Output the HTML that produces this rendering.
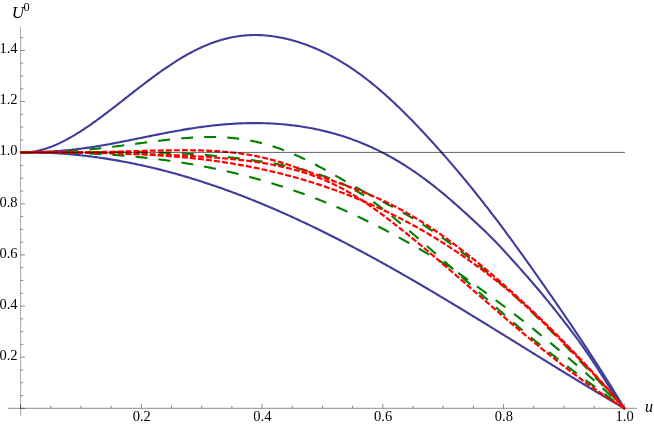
<!DOCTYPE html>
<html><head><meta charset="utf-8"><title>U0 vs u</title>
<style>html,body{margin:0;padding:0;background:#fff;}svg{display:block;}text{font-family:"Liberation Serif",serif;fill:#000;}svg{opacity:0.9999;will-change:transform;}</style></head><body>
<svg width="654" height="425" viewBox="0 0 654 425">
<rect width="654" height="425" fill="#fff"/>
<g stroke="#000" stroke-width="0.5" stroke-opacity="0.9" fill="none" shape-rendering="auto">
<line x1="8.0" y1="408.3" x2="636.9" y2="408.3"/>
<line x1="20.6" y1="26.8" x2="20.6" y2="415.7" stroke-opacity="0.68"/>
<line x1="20.60" y1="408.3" x2="20.60" y2="403.90"/>
<line x1="50.78" y1="408.3" x2="50.78" y2="405.70"/>
<line x1="80.97" y1="408.3" x2="80.97" y2="405.70"/>
<line x1="111.16" y1="408.3" x2="111.16" y2="405.70"/>
<line x1="141.34" y1="408.3" x2="141.34" y2="403.90"/>
<line x1="171.52" y1="408.3" x2="171.52" y2="405.70"/>
<line x1="201.71" y1="408.3" x2="201.71" y2="405.70"/>
<line x1="231.89" y1="408.3" x2="231.89" y2="405.70"/>
<line x1="262.08" y1="408.3" x2="262.08" y2="403.90"/>
<line x1="292.26" y1="408.3" x2="292.26" y2="405.70"/>
<line x1="322.45" y1="408.3" x2="322.45" y2="405.70"/>
<line x1="352.63" y1="408.3" x2="352.63" y2="405.70"/>
<line x1="382.82" y1="408.3" x2="382.82" y2="403.90"/>
<line x1="413.00" y1="408.3" x2="413.00" y2="405.70"/>
<line x1="443.19" y1="408.3" x2="443.19" y2="405.70"/>
<line x1="473.38" y1="408.3" x2="473.38" y2="405.70"/>
<line x1="503.56" y1="408.3" x2="503.56" y2="403.90"/>
<line x1="533.75" y1="408.3" x2="533.75" y2="405.70"/>
<line x1="563.93" y1="408.3" x2="563.93" y2="405.70"/>
<line x1="594.12" y1="408.3" x2="594.12" y2="405.70"/>
<line x1="624.30" y1="408.3" x2="624.30" y2="403.90"/>
<line x1="20.6" y1="408.30" x2="25.00" y2="408.30"/>
<line x1="20.6" y1="395.52" x2="23.20" y2="395.52"/>
<line x1="20.6" y1="382.74" x2="23.20" y2="382.74"/>
<line x1="20.6" y1="369.96" x2="23.20" y2="369.96"/>
<line x1="20.6" y1="357.17" x2="25.00" y2="357.17"/>
<line x1="20.6" y1="344.39" x2="23.20" y2="344.39"/>
<line x1="20.6" y1="331.61" x2="23.20" y2="331.61"/>
<line x1="20.6" y1="318.83" x2="23.20" y2="318.83"/>
<line x1="20.6" y1="306.05" x2="25.00" y2="306.05"/>
<line x1="20.6" y1="293.27" x2="23.20" y2="293.27"/>
<line x1="20.6" y1="280.49" x2="23.20" y2="280.49"/>
<line x1="20.6" y1="267.70" x2="23.20" y2="267.70"/>
<line x1="20.6" y1="254.92" x2="25.00" y2="254.92"/>
<line x1="20.6" y1="242.14" x2="23.20" y2="242.14"/>
<line x1="20.6" y1="229.36" x2="23.20" y2="229.36"/>
<line x1="20.6" y1="216.58" x2="23.20" y2="216.58"/>
<line x1="20.6" y1="203.80" x2="25.00" y2="203.80"/>
<line x1="20.6" y1="191.01" x2="23.20" y2="191.01"/>
<line x1="20.6" y1="178.23" x2="23.20" y2="178.23"/>
<line x1="20.6" y1="165.45" x2="23.20" y2="165.45"/>
<line x1="20.6" y1="152.67" x2="25.00" y2="152.67"/>
<line x1="20.6" y1="139.89" x2="23.20" y2="139.89"/>
<line x1="20.6" y1="127.11" x2="23.20" y2="127.11"/>
<line x1="20.6" y1="114.33" x2="23.20" y2="114.33"/>
<line x1="20.6" y1="101.54" x2="25.00" y2="101.54"/>
<line x1="20.6" y1="88.76" x2="23.20" y2="88.76"/>
<line x1="20.6" y1="75.98" x2="23.20" y2="75.98"/>
<line x1="20.6" y1="63.20" x2="23.20" y2="63.20"/>
<line x1="20.6" y1="50.42" x2="25.00" y2="50.42"/>
<line x1="20.6" y1="37.64" x2="23.20" y2="37.64"/>
</g>
<g font-size="14.5px">
<text x="141.69" y="421.4" text-anchor="middle">0.2</text>
<text x="262.43" y="421.4" text-anchor="middle">0.4</text>
<text x="383.17" y="421.4" text-anchor="middle">0.6</text>
<text x="503.91" y="421.4" text-anchor="middle">0.8</text>
<text x="624.65" y="421.4" text-anchor="middle">1.0</text>
<text x="17.6" y="359.92" text-anchor="end">0.2</text>
<text x="17.6" y="308.80" text-anchor="end">0.4</text>
<text x="17.6" y="257.67" text-anchor="end">0.6</text>
<text x="17.6" y="206.55" text-anchor="end">0.8</text>
<text x="17.6" y="155.42" text-anchor="end">1.0</text>
<text x="17.6" y="104.29" text-anchor="end">1.2</text>
<text x="17.6" y="53.17" text-anchor="end">1.4</text>
</g>
<text x="645.1" y="412.1" font-size="16px" font-style="italic">u</text>
<text transform="translate(11.7,17.7) scale(1.07,1)" font-size="16px" font-style="italic">U</text>
<text x="23.5" y="11.2" font-size="12.4px">0</text>
<g fill="none" stroke-width="2.1" stroke-linejoin="round">
<path d="M20.60,152.35 L22.10,152.40 L23.60,152.41 L25.10,152.38 L26.60,152.32 L28.10,152.22 L29.60,152.09 L31.10,151.92 L32.60,151.72 L34.10,151.49 L35.60,151.23 L37.10,150.93 L38.60,150.61 L40.10,150.25 L41.60,149.87 L43.10,149.45 L44.60,149.01 L46.10,148.54 L47.60,148.04 L49.10,147.51 L50.60,146.96 L52.10,146.39 L53.60,145.78 L55.10,145.16 L56.60,144.51 L58.10,143.84 L59.60,143.14 L61.10,142.42 L62.60,141.68 L64.10,140.92 L65.60,140.14 L67.10,139.34 L68.60,138.52 L70.10,137.69 L71.60,136.83 L73.10,135.95 L74.60,135.06 L76.10,134.16 L77.60,133.23 L79.10,132.29 L80.60,131.34 L82.10,130.37 L83.60,129.38 L85.10,128.39 L86.60,127.38 L88.10,126.36 L89.60,125.32 L91.10,124.28 L92.60,123.22 L94.10,122.15 L95.60,121.08 L97.10,119.99 L98.60,118.90 L100.10,117.79 L101.60,116.68 L103.10,115.56 L104.60,114.44 L106.10,113.30 L107.60,112.17 L109.10,111.02 L110.60,109.87 L112.10,108.72 L113.60,107.56 L115.10,106.40 L116.60,105.24 L118.10,104.07 L119.60,102.90 L121.10,101.73 L122.60,100.55 L124.10,99.38 L125.60,98.20 L127.10,97.03 L128.60,95.86 L130.10,94.68 L131.60,93.51 L133.10,92.34 L134.60,91.17 L136.10,90.00 L137.60,88.84 L139.10,87.68 L140.60,86.52 L142.10,85.37 L143.60,84.22 L145.10,83.08 L146.60,81.94 L148.10,80.81 L149.60,79.69 L151.10,78.57 L152.60,77.46 L154.10,76.35 L155.60,75.26 L157.10,74.17 L158.60,73.09 L160.10,72.01 L161.60,70.95 L163.10,69.90 L164.60,68.86 L166.10,67.83 L167.60,66.80 L169.10,65.79 L170.60,64.79 L172.10,63.81 L173.60,62.83 L175.10,61.87 L176.60,60.92 L178.10,59.98 L179.60,59.06 L181.10,58.15 L182.60,57.26 L184.10,56.37 L185.60,55.51 L187.10,54.66 L188.60,53.82 L190.10,53.00 L191.60,52.20 L193.10,51.41 L194.60,50.64 L196.10,49.89 L197.60,49.15 L199.10,48.43 L200.60,47.73 L202.10,47.04 L203.60,46.38 L205.10,45.73 L206.60,45.10 L208.10,44.48 L209.60,43.89 L211.10,43.32 L212.60,42.76 L214.10,42.22 L215.60,41.70 L217.10,41.20 L218.60,40.72 L220.10,40.26 L221.60,39.82 L223.10,39.40 L224.60,39.00 L226.10,38.61 L227.60,38.25 L229.10,37.91 L230.60,37.58 L232.10,37.28 L233.60,36.99 L235.10,36.73 L236.60,36.48 L238.10,36.25 L239.60,36.05 L241.10,35.86 L242.60,35.69 L244.10,35.54 L245.60,35.42 L247.10,35.30 L248.60,35.21 L250.10,35.14 L251.60,35.09 L253.10,35.05 L254.60,35.04 L256.10,35.04 L257.60,35.06 L259.10,35.10 L260.60,35.16 L262.10,35.23 L263.60,35.32 L265.10,35.43 L266.60,35.56 L268.10,35.70 L269.60,35.86 L271.10,36.04 L272.60,36.23 L274.10,36.44 L275.60,36.67 L277.10,36.91 L278.60,37.17 L280.10,37.45 L281.60,37.74 L283.10,38.05 L284.60,38.38 L286.10,38.72 L287.60,39.07 L289.10,39.44 L290.60,39.83 L292.10,40.23 L293.60,40.65 L295.10,41.08 L296.60,41.53 L298.10,42.00 L299.60,42.47 L301.10,42.97 L302.60,43.48 L304.10,44.00 L305.60,44.54 L307.10,45.09 L308.60,45.66 L310.10,46.25 L311.60,46.85 L313.10,47.46 L314.60,48.09 L316.10,48.73 L317.60,49.39 L319.10,50.06 L320.60,50.75 L322.10,51.45 L323.60,52.17 L325.10,52.90 L326.60,53.65 L328.10,54.41 L329.60,55.18 L331.10,55.98 L332.60,56.78 L334.10,57.60 L335.60,58.44 L337.10,59.29 L338.60,60.16 L340.10,61.04 L341.60,61.94 L343.10,62.85 L344.60,63.78 L346.10,64.72 L347.60,65.68 L349.10,66.65 L350.60,67.64 L352.10,68.65 L353.60,69.67 L355.10,70.70 L356.60,71.75 L358.10,72.82 L359.60,73.90 L361.10,75.00 L362.60,76.11 L364.10,77.24 L365.60,78.38 L367.10,79.54 L368.60,80.71 L370.10,81.90 L371.60,83.10 L373.10,84.32 L374.60,85.55 L376.10,86.80 L377.60,88.06 L379.10,89.33 L380.60,90.62 L382.10,91.92 L383.60,93.24 L385.10,94.57 L386.60,95.91 L388.10,97.26 L389.60,98.63 L391.10,100.01 L392.60,101.41 L394.10,102.81 L395.60,104.23 L397.10,105.66 L398.60,107.10 L400.10,108.55 L401.60,110.01 L403.10,111.49 L404.60,112.97 L406.10,114.47 L407.60,115.97 L409.10,117.49 L410.60,119.01 L412.10,120.54 L413.60,122.09 L415.10,123.64 L416.60,125.20 L418.10,126.77 L419.60,128.35 L421.10,129.94 L422.60,131.53 L424.10,133.14 L425.60,134.75 L427.10,136.37 L428.60,138.00 L430.10,139.64 L431.60,141.28 L433.10,142.94 L434.60,144.60 L436.10,146.26 L437.60,147.94 L439.10,149.62 L440.60,151.31 L442.10,153.01 L443.60,154.71 L445.10,156.43 L446.60,158.15 L448.10,159.87 L449.60,161.61 L451.10,163.35 L452.60,165.10 L454.10,166.86 L455.60,168.62 L457.10,170.39 L458.60,172.17 L460.10,173.96 L461.60,175.75 L463.10,177.55 L464.60,179.36 L466.10,181.18 L467.60,183.01 L469.10,184.84 L470.60,186.68 L472.10,188.53 L473.60,190.39 L475.10,192.25 L476.60,194.13 L478.10,196.01 L479.60,197.90 L481.10,199.80 L482.60,201.70 L484.10,203.62 L485.60,205.54 L487.10,207.47 L488.60,209.41 L490.10,211.35 L491.60,213.31 L493.10,215.27 L494.60,217.24 L496.10,219.22 L497.60,221.20 L499.10,223.19 L500.60,225.19 L502.10,227.20 L503.60,229.21 L505.10,231.23 L506.60,233.26 L508.10,235.30 L509.60,237.34 L511.10,239.38 L512.60,241.44 L514.10,243.50 L515.60,245.56 L517.10,247.63 L518.60,249.71 L520.10,251.79 L521.60,253.88 L523.10,255.97 L524.60,258.07 L526.10,260.17 L527.60,262.27 L529.10,264.38 L530.60,266.50 L532.10,268.61 L533.60,270.74 L535.10,272.86 L536.60,274.99 L538.10,277.12 L539.60,279.26 L541.10,281.40 L542.60,283.54 L544.10,285.69 L545.60,287.84 L547.10,289.99 L548.60,292.15 L550.10,294.31 L551.60,296.47 L553.10,298.64 L554.60,300.81 L556.10,302.98 L557.60,305.16 L559.10,307.34 L560.60,309.53 L562.10,311.72 L563.60,313.91 L565.10,316.11 L566.60,318.31 L568.10,320.52 L569.60,322.73 L571.10,324.94 L572.60,327.16 L574.10,329.39 L575.60,331.62 L577.10,333.85 L578.60,336.09 L580.10,338.34 L581.60,340.60 L583.10,342.86 L584.60,345.12 L586.10,347.40 L587.60,349.68 L589.10,351.97 L590.60,354.27 L592.10,356.57 L593.60,358.89 L595.10,361.21 L596.60,363.54 L598.10,365.88 L599.60,368.22 L601.10,370.58 L602.60,372.95 L604.10,375.32 L605.60,377.71 L607.10,380.10 L608.60,382.51 L610.10,384.92 L611.60,387.35 L613.10,389.78 L614.60,392.23 L616.10,394.69 L617.60,397.15 L619.10,399.63 L620.60,402.12 L622.10,404.62 L623.60,407.13 L624.30,408.30 L624.81,409.16" stroke="#3f3d99"/>
<path d="M20.60,152.35 L22.10,152.36 L23.60,152.36 L25.10,152.35 L26.60,152.35 L28.10,152.33 L29.60,152.32 L31.10,152.30 L32.60,152.27 L34.10,152.24 L35.60,152.20 L37.10,152.16 L38.60,152.12 L40.10,152.07 L41.60,152.01 L43.10,151.95 L44.60,151.88 L46.10,151.81 L47.60,151.73 L49.10,151.65 L50.60,151.57 L52.10,151.47 L53.60,151.37 L55.10,151.27 L56.60,151.16 L58.10,151.05 L59.60,150.93 L61.10,150.80 L62.60,150.67 L64.10,150.54 L65.60,150.39 L67.10,150.25 L68.60,150.10 L70.10,149.94 L71.60,149.78 L73.10,149.61 L74.60,149.44 L76.10,149.26 L77.60,149.08 L79.10,148.89 L80.60,148.69 L82.10,148.50 L83.60,148.29 L85.10,148.09 L86.60,147.87 L88.10,147.66 L89.60,147.44 L91.10,147.21 L92.60,146.98 L94.10,146.74 L95.60,146.51 L97.10,146.26 L98.60,146.01 L100.10,145.76 L101.60,145.51 L103.10,145.25 L104.60,144.99 L106.10,144.72 L107.60,144.45 L109.10,144.18 L110.60,143.91 L112.10,143.63 L113.60,143.35 L115.10,143.06 L116.60,142.78 L118.10,142.49 L119.60,142.20 L121.10,141.90 L122.60,141.61 L124.10,141.31 L125.60,141.02 L127.10,140.72 L128.60,140.42 L130.10,140.11 L131.60,139.81 L133.10,139.51 L134.60,139.20 L136.10,138.90 L137.60,138.59 L139.10,138.29 L140.60,137.98 L142.10,137.68 L143.60,137.37 L145.10,137.06 L146.60,136.76 L148.10,136.46 L149.60,136.15 L151.10,135.85 L152.60,135.55 L154.10,135.25 L155.60,134.95 L157.10,134.65 L158.60,134.35 L160.10,134.06 L161.60,133.76 L163.10,133.47 L164.60,133.18 L166.10,132.89 L167.60,132.61 L169.10,132.33 L170.60,132.04 L172.10,131.77 L173.60,131.49 L175.10,131.22 L176.60,130.95 L178.10,130.68 L179.60,130.42 L181.10,130.16 L182.60,129.90 L184.10,129.64 L185.60,129.39 L187.10,129.15 L188.60,128.90 L190.10,128.66 L191.60,128.43 L193.10,128.19 L194.60,127.97 L196.10,127.74 L197.60,127.52 L199.10,127.31 L200.60,127.10 L202.10,126.89 L203.60,126.69 L205.10,126.49 L206.60,126.30 L208.10,126.11 L209.60,125.93 L211.10,125.75 L212.60,125.58 L214.10,125.41 L215.60,125.25 L217.10,125.09 L218.60,124.94 L220.10,124.79 L221.60,124.65 L223.10,124.52 L224.60,124.39 L226.10,124.27 L227.60,124.15 L229.10,124.04 L230.60,123.93 L232.10,123.83 L233.60,123.73 L235.10,123.65 L236.60,123.56 L238.10,123.49 L239.60,123.42 L241.10,123.36 L242.60,123.30 L244.10,123.25 L245.60,123.20 L247.10,123.17 L248.60,123.14 L250.10,123.11 L251.60,123.09 L253.10,123.08 L254.60,123.08 L256.10,123.08 L257.60,123.09 L259.10,123.10 L260.60,123.13 L262.10,123.16 L263.60,123.19 L265.10,123.24 L266.60,123.29 L268.10,123.35 L269.60,123.41 L271.10,123.48 L272.60,123.56 L274.10,123.65 L275.60,123.74 L277.10,123.84 L278.60,123.95 L280.10,124.07 L281.60,124.19 L283.10,124.32 L284.60,124.46 L286.10,124.61 L287.60,124.76 L289.10,124.92 L290.60,125.09 L292.10,125.27 L293.60,125.45 L295.10,125.64 L296.60,125.84 L298.10,126.05 L299.60,126.27 L301.10,126.49 L302.60,126.73 L304.10,126.97 L305.60,127.22 L307.10,127.47 L308.60,127.74 L310.10,128.01 L311.60,128.30 L313.10,128.59 L314.60,128.89 L316.10,129.20 L317.60,129.52 L319.10,129.84 L320.60,130.18 L322.10,130.52 L323.60,130.87 L325.10,131.24 L326.60,131.61 L328.10,131.99 L329.60,132.38 L331.10,132.78 L332.60,133.19 L334.10,133.60 L335.60,134.03 L337.10,134.47 L338.60,134.91 L340.10,135.37 L341.60,135.84 L343.10,136.31 L344.60,136.80 L346.10,137.29 L347.60,137.80 L349.10,138.31 L350.60,138.84 L352.10,139.38 L353.60,139.92 L355.10,140.48 L356.60,141.05 L358.10,141.63 L359.60,142.21 L361.10,142.81 L362.60,143.42 L364.10,144.04 L365.60,144.68 L367.10,145.32 L368.60,145.97 L370.10,146.64 L371.60,147.32 L373.10,148.00 L374.60,148.70 L376.10,149.41 L377.60,150.14 L379.10,150.87 L380.60,151.62 L382.10,152.37 L383.60,153.14 L385.10,153.93 L386.60,154.72 L388.10,155.53 L389.60,156.34 L391.10,157.17 L392.60,158.02 L394.10,158.87 L395.60,159.74 L397.10,160.62 L398.60,161.51 L400.10,162.42 L401.60,163.33 L403.10,164.26 L404.60,165.21 L406.10,166.16 L407.60,167.13 L409.10,168.11 L410.60,169.10 L412.10,170.10 L413.60,171.12 L415.10,172.15 L416.60,173.19 L418.10,174.24 L419.60,175.31 L421.10,176.39 L422.60,177.48 L424.10,178.58 L425.60,179.69 L427.10,180.82 L428.60,181.95 L430.10,183.10 L431.60,184.26 L433.10,185.43 L434.60,186.61 L436.10,187.80 L437.60,189.01 L439.10,190.22 L440.60,191.45 L442.10,192.68 L443.60,193.93 L445.10,195.18 L446.60,196.45 L448.10,197.72 L449.60,199.00 L451.10,200.30 L452.60,201.60 L454.10,202.91 L455.60,204.23 L457.10,205.55 L458.60,206.89 L460.10,208.23 L461.60,209.57 L463.10,210.93 L464.60,212.28 L466.10,213.65 L467.60,215.02 L469.10,216.39 L470.60,217.76 L472.10,219.14 L473.60,220.53 L475.10,221.92 L476.60,223.31 L478.10,224.70 L479.60,226.11 L481.10,227.52 L482.60,228.93 L484.10,230.36 L485.60,231.79 L487.10,233.24 L488.60,234.71 L490.10,236.19 L491.60,237.68 L493.10,239.20 L494.60,240.74 L496.10,242.29 L497.60,243.86 L499.10,245.45 L500.60,247.05 L502.10,248.67 L503.60,250.30 L505.10,251.94 L506.60,253.59 L508.10,255.25 L509.60,256.90 L511.10,258.56 L512.60,260.23 L514.10,261.89 L515.60,263.56 L517.10,265.23 L518.60,266.90 L520.10,268.58 L521.60,270.26 L523.10,271.95 L524.60,273.65 L526.10,275.35 L527.60,277.06 L529.10,278.78 L530.60,280.50 L532.10,282.24 L533.60,283.98 L535.10,285.73 L536.60,287.50 L538.10,289.27 L539.60,291.05 L541.10,292.84 L542.60,294.65 L544.10,296.46 L545.60,298.28 L547.10,300.11 L548.60,301.95 L550.10,303.80 L551.60,305.66 L553.10,307.53 L554.60,309.41 L556.10,311.30 L557.60,313.19 L559.10,315.09 L560.60,317.00 L562.10,318.92 L563.60,320.85 L565.10,322.79 L566.60,324.74 L568.10,326.70 L569.60,328.67 L571.10,330.65 L572.60,332.64 L574.10,334.65 L575.60,336.67 L577.10,338.70 L578.60,340.75 L580.10,342.82 L581.60,344.90 L583.10,347.01 L584.60,349.13 L586.10,351.28 L587.60,353.44 L589.10,355.64 L590.60,357.85 L592.10,360.10 L593.60,362.36 L595.10,364.65 L596.60,366.96 L598.10,369.30 L599.60,371.64 L601.10,374.01 L602.60,376.38 L604.10,378.76 L605.60,381.14 L607.10,383.52 L608.60,385.89 L610.10,388.25 L611.60,390.58 L613.10,392.88 L614.60,395.15 L616.10,397.37 L617.60,399.54 L619.10,401.64 L620.60,403.67 L622.10,405.62 L623.60,407.47 L624.30,408.30 L624.93,409.07" stroke="#3f3d99"/>
<path d="M20.60,152.35 L22.10,152.34 L23.60,152.33 L25.10,152.33 L26.60,152.33 L28.10,152.34 L29.60,152.35 L31.10,152.36 L32.60,152.38 L34.10,152.41 L35.60,152.44 L37.10,152.47 L38.60,152.51 L40.10,152.55 L41.60,152.59 L43.10,152.64 L44.60,152.70 L46.10,152.76 L47.60,152.82 L49.10,152.89 L50.60,152.96 L52.10,153.03 L53.60,153.12 L55.10,153.20 L56.60,153.29 L58.10,153.38 L59.60,153.48 L61.10,153.58 L62.60,153.69 L64.10,153.80 L65.60,153.92 L67.10,154.03 L68.60,154.16 L70.10,154.29 L71.60,154.42 L73.10,154.56 L74.60,154.70 L76.10,154.84 L77.60,154.99 L79.10,155.14 L80.60,155.30 L82.10,155.46 L83.60,155.63 L85.10,155.80 L86.60,155.98 L88.10,156.16 L89.60,156.34 L91.10,156.53 L92.60,156.72 L94.10,156.92 L95.60,157.12 L97.10,157.32 L98.60,157.53 L100.10,157.74 L101.60,157.96 L103.10,158.18 L104.60,158.41 L106.10,158.64 L107.60,158.87 L109.10,159.11 L110.60,159.35 L112.10,159.60 L113.60,159.85 L115.10,160.10 L116.60,160.36 L118.10,160.62 L119.60,160.89 L121.10,161.16 L122.60,161.44 L124.10,161.72 L125.60,162.00 L127.10,162.29 L128.60,162.58 L130.10,162.88 L131.60,163.18 L133.10,163.48 L134.60,163.79 L136.10,164.10 L137.60,164.42 L139.10,164.74 L140.60,165.06 L142.10,165.39 L143.60,165.72 L145.10,166.06 L146.60,166.40 L148.10,166.74 L149.60,167.09 L151.10,167.44 L152.60,167.80 L154.10,168.16 L155.60,168.52 L157.10,168.89 L158.60,169.26 L160.10,169.64 L161.60,170.02 L163.10,170.40 L164.60,170.79 L166.10,171.18 L167.60,171.58 L169.10,171.98 L170.60,172.38 L172.10,172.79 L173.60,173.20 L175.10,173.61 L176.60,174.03 L178.10,174.45 L179.60,174.88 L181.10,175.31 L182.60,175.74 L184.10,176.18 L185.60,176.62 L187.10,177.07 L188.60,177.52 L190.10,177.97 L191.60,178.42 L193.10,178.88 L194.60,179.35 L196.10,179.82 L197.60,180.29 L199.10,180.76 L200.60,181.24 L202.10,181.72 L203.60,182.21 L205.10,182.70 L206.60,183.19 L208.10,183.69 L209.60,184.19 L211.10,184.69 L212.60,185.20 L214.10,185.71 L215.60,186.23 L217.10,186.75 L218.60,187.27 L220.10,187.80 L221.60,188.32 L223.10,188.86 L224.60,189.39 L226.10,189.93 L227.60,190.48 L229.10,191.02 L230.60,191.57 L232.10,192.13 L233.60,192.68 L235.10,193.25 L236.60,193.81 L238.10,194.38 L239.60,194.95 L241.10,195.52 L242.60,196.10 L244.10,196.68 L245.60,197.27 L247.10,197.85 L248.60,198.44 L250.10,199.04 L251.60,199.64 L253.10,200.24 L254.60,200.84 L256.10,201.45 L257.60,202.06 L259.10,202.67 L260.60,203.29 L262.10,203.91 L263.60,204.54 L265.10,205.16 L266.60,205.79 L268.10,206.43 L269.60,207.06 L271.10,207.70 L272.60,208.34 L274.10,208.99 L275.60,209.64 L277.10,210.29 L278.60,210.95 L280.10,211.60 L281.60,212.27 L283.10,212.93 L284.60,213.60 L286.10,214.27 L287.60,214.94 L289.10,215.62 L290.60,216.30 L292.10,216.98 L293.60,217.66 L295.10,218.35 L296.60,219.04 L298.10,219.74 L299.60,220.43 L301.10,221.13 L302.60,221.84 L304.10,222.54 L305.60,223.25 L307.10,223.96 L308.60,224.67 L310.10,225.39 L311.60,226.11 L313.10,226.83 L314.60,227.56 L316.10,228.29 L317.60,229.02 L319.10,229.75 L320.60,230.48 L322.10,231.22 L323.60,231.96 L325.10,232.71 L326.60,233.45 L328.10,234.20 L329.60,234.95 L331.10,235.71 L332.60,236.46 L334.10,237.22 L335.60,237.98 L337.10,238.75 L338.60,239.52 L340.10,240.28 L341.60,241.06 L343.10,241.83 L344.60,242.61 L346.10,243.39 L347.60,244.17 L349.10,244.95 L350.60,245.74 L352.10,246.52 L353.60,247.31 L355.10,248.11 L356.60,248.90 L358.10,249.70 L359.60,250.50 L361.10,251.30 L362.60,252.11 L364.10,252.91 L365.60,253.72 L367.10,254.53 L368.60,255.34 L370.10,256.16 L371.60,256.98 L373.10,257.80 L374.60,258.62 L376.10,259.44 L377.60,260.27 L379.10,261.09 L380.60,261.92 L382.10,262.75 L383.60,263.59 L385.10,264.42 L386.60,265.26 L388.10,266.10 L389.60,266.94 L391.10,267.78 L392.60,268.63 L394.10,269.48 L395.60,270.32 L397.10,271.17 L398.60,272.03 L400.10,272.88 L401.60,273.74 L403.10,274.59 L404.60,275.45 L406.10,276.31 L407.60,277.18 L409.10,278.04 L410.60,278.91 L412.10,279.77 L413.60,280.64 L415.10,281.51 L416.60,282.39 L418.10,283.26 L419.60,284.13 L421.10,285.01 L422.60,285.89 L424.10,286.77 L425.60,287.65 L427.10,288.53 L428.60,289.42 L430.10,290.30 L431.60,291.19 L433.10,292.08 L434.60,292.97 L436.10,293.86 L437.60,294.75 L439.10,295.64 L440.60,296.54 L442.10,297.43 L443.60,298.33 L445.10,299.23 L446.60,300.13 L448.10,301.03 L449.60,301.93 L451.10,302.83 L452.60,303.73 L454.10,304.64 L455.60,305.54 L457.10,306.45 L458.60,307.36 L460.10,308.27 L461.60,309.18 L463.10,310.09 L464.60,311.00 L466.10,311.91 L467.60,312.82 L469.10,313.74 L470.60,314.65 L472.10,315.57 L473.60,316.48 L475.10,317.40 L476.60,318.32 L478.10,319.24 L479.60,320.16 L481.10,321.08 L482.60,322.00 L484.10,322.92 L485.60,323.84 L487.10,324.76 L488.60,325.69 L490.10,326.61 L491.60,327.53 L493.10,328.46 L494.60,329.38 L496.10,330.31 L497.60,331.23 L499.10,332.16 L500.60,333.08 L502.10,334.01 L503.60,334.94 L505.10,335.86 L506.60,336.79 L508.10,337.72 L509.60,338.65 L511.10,339.58 L512.60,340.50 L514.10,341.43 L515.60,342.36 L517.10,343.29 L518.60,344.22 L520.10,345.15 L521.60,346.08 L523.10,347.00 L524.60,347.93 L526.10,348.86 L527.60,349.79 L529.10,350.72 L530.60,351.65 L532.10,352.58 L533.60,353.50 L535.10,354.43 L536.60,355.36 L538.10,356.29 L539.60,357.21 L541.10,358.14 L542.60,359.07 L544.10,359.99 L545.60,360.92 L547.10,361.84 L548.60,362.77 L550.10,363.69 L551.60,364.62 L553.10,365.54 L554.60,366.47 L556.10,367.39 L557.60,368.31 L559.10,369.23 L560.60,370.15 L562.10,371.07 L563.60,371.99 L565.10,372.91 L566.60,373.83 L568.10,374.74 L569.60,375.66 L571.10,376.58 L572.60,377.49 L574.10,378.40 L575.60,379.32 L577.10,380.23 L578.60,381.14 L580.10,382.05 L581.60,382.96 L583.10,383.87 L584.60,384.77 L586.10,385.68 L587.60,386.59 L589.10,387.49 L590.60,388.39 L592.10,389.29 L593.60,390.19 L595.10,391.09 L596.60,391.99 L598.10,392.89 L599.60,393.78 L601.10,394.67 L602.60,395.57 L604.10,396.46 L605.60,397.35 L607.10,398.23 L608.60,399.12 L610.10,400.00 L611.60,400.89 L613.10,401.77 L614.60,402.65 L616.10,403.53 L617.60,404.40 L619.10,405.28 L620.60,406.15 L622.10,407.02 L623.60,407.89 L624.30,408.30 L625.17,408.80" stroke="#3f3d99"/>
<path d="M20.60,152.35 L22.10,152.38 L23.60,152.40 L25.10,152.42 L26.60,152.43 L28.10,152.44 L29.60,152.45 L31.10,152.45 L32.60,152.45 L34.10,152.45 L35.60,152.44 L37.10,152.42 L38.60,152.40 L40.10,152.38 L41.60,152.35 L43.10,152.32 L44.60,152.29 L46.10,152.25 L47.60,152.20 L49.10,152.15 L50.60,152.10 L52.10,152.05 L53.60,151.99 L55.10,151.92 L56.60,151.85 L58.10,151.78 L59.60,151.71 L61.10,151.63 L62.60,151.54 L64.10,151.45 L65.60,151.36 L67.10,151.27 L68.60,151.17 L70.10,151.06 L71.60,150.96 L73.10,150.84 L74.60,150.73 L76.10,150.61 L77.60,150.49 L79.10,150.37 L80.60,150.24 L82.10,150.11 L83.60,149.97 L85.10,149.83 L86.60,149.69 L88.10,149.55 L89.60,149.40 L91.10,149.25 L92.60,149.10 L94.10,148.94 L95.60,148.78 L97.10,148.62 L98.60,148.45 L100.10,148.29 L101.60,148.12 L103.10,147.95 L104.60,147.77 L106.10,147.60 L107.60,147.42 L109.10,147.24 L110.60,147.05 L112.10,146.87 L113.60,146.68 L115.10,146.50 L116.60,146.31 L118.10,146.12 L119.60,145.93 L121.10,145.73 L122.60,145.54 L124.10,145.34 L125.60,145.15 L127.10,144.95 L128.60,144.75 L130.10,144.55 L131.60,144.35 L133.10,144.16 L134.60,143.96 L136.10,143.76 L137.60,143.56 L139.10,143.36 L140.60,143.16 L142.10,142.96 L143.60,142.76 L145.10,142.57 L146.60,142.37 L148.10,142.18 L149.60,141.98 L151.10,141.79 L152.60,141.60 L154.10,141.41 L155.60,141.22 L157.10,141.03 L158.60,140.85 L160.10,140.67 L161.60,140.49 L163.10,140.31 L164.60,140.13 L166.10,139.96 L167.60,139.79 L169.10,139.63 L170.60,139.47 L172.10,139.31 L173.60,139.15 L175.10,139.00 L176.60,138.85 L178.10,138.71 L179.60,138.57 L181.10,138.44 L182.60,138.31 L184.10,138.18 L185.60,138.06 L187.10,137.95 L188.60,137.84 L190.10,137.74 L191.60,137.64 L193.10,137.55 L194.60,137.46 L196.10,137.38 L197.60,137.31 L199.10,137.25 L200.60,137.19 L202.10,137.14 L203.60,137.10 L205.10,137.06 L206.60,137.03 L208.10,137.01 L209.60,137.00 L211.10,137.00 L212.60,137.01 L214.10,137.02 L215.60,137.05 L217.10,137.08 L218.60,137.12 L220.10,137.18 L221.60,137.24 L223.10,137.31 L224.60,137.40 L226.10,137.49 L227.60,137.60 L229.10,137.71 L230.60,137.84 L232.10,137.98 L233.60,138.13 L235.10,138.29 L236.60,138.46 L238.10,138.65 L239.60,138.84 L241.10,139.05 L242.60,139.27 L244.10,139.50 L245.60,139.74 L247.10,140.00 L248.60,140.27 L250.10,140.55 L251.60,140.84 L253.10,141.14 L254.60,141.46 L256.10,141.79 L257.60,142.13 L259.10,142.49 L260.60,142.86 L262.10,143.24 L263.60,143.63 L265.10,144.04 L266.60,144.46 L268.10,144.89 L269.60,145.33 L271.10,145.79 L272.60,146.26 L274.10,146.74 L275.60,147.23 L277.10,147.74 L278.60,148.26 L280.10,148.79 L281.60,149.34 L283.10,149.89 L284.60,150.46 L286.10,151.04 L287.60,151.64 L289.10,152.24 L290.60,152.86 L292.10,153.49 L293.60,154.13 L295.10,154.78 L296.60,155.44 L298.10,156.11 L299.60,156.80 L301.10,157.49 L302.60,158.20 L304.10,158.91 L305.60,159.64 L307.10,160.37 L308.60,161.12 L310.10,161.87 L311.60,162.63 L313.10,163.40 L314.60,164.18 L316.10,164.96 L317.60,165.76 L319.10,166.56 L320.60,167.36 L322.10,168.18 L323.60,168.99 L325.10,169.82 L326.60,170.65 L328.10,171.48 L329.60,172.32 L331.10,173.16 L332.60,174.01 L334.10,174.86 L335.60,175.71 L337.10,176.56 L338.60,177.42 L340.10,178.27 L341.60,179.13 L343.10,179.98 L344.60,180.84 L346.10,181.69 L347.60,182.54 L349.10,183.39 L350.60,184.24 L352.10,185.09 L353.60,185.93 L355.10,186.77 L356.60,187.61 L358.10,188.44 L359.60,189.27 L361.10,190.10 L362.10,190.65" stroke="#008000" stroke-dasharray="12 11.11" stroke-dashoffset="0.5"/>
<path d="M362.10,190.65 L362.60,190.92 L364.10,191.74 L365.60,192.56 L367.10,193.37 L368.60,194.18 L370.10,194.99 L371.60,195.79 L373.10,196.59 L374.60,197.39 L376.10,198.19 L377.60,198.98 L379.10,199.77 L380.60,200.57 L382.10,201.36 L383.60,202.15 L385.10,202.94 L386.60,203.74 L388.10,204.53 L389.60,205.33 L391.10,206.13 L392.60,206.94 L394.10,207.75 L395.60,208.56 L397.10,209.38 L398.60,210.21 L400.10,211.04 L401.60,211.88 L403.10,212.72 L404.60,213.57 L406.10,214.43 L407.60,215.30 L409.10,216.18 L410.60,217.06 L412.10,217.95 L413.60,218.85 L415.10,219.76 L416.60,220.68 L418.10,221.61 L419.60,222.55 L421.10,223.49 L422.60,224.45 L424.10,225.41 L425.60,226.39 L427.10,227.37 L428.60,228.36 L430.10,229.35 L431.60,230.36 L433.10,231.37 L434.60,232.39 L436.10,233.42 L437.60,234.46 L439.10,235.50 L440.60,236.55 L442.10,237.61 L443.60,238.67 L445.10,239.74 L446.60,240.82 L448.10,241.90 L449.60,242.99 L451.10,244.09 L452.60,245.19 L454.10,246.30 L455.60,247.41 L457.10,248.53 L458.60,249.66 L460.10,250.79 L461.60,251.93 L463.10,253.07 L464.60,254.22 L466.10,255.38 L467.60,256.54 L469.10,257.71 L470.60,258.88 L472.10,260.06 L473.60,261.24 L475.10,262.43 L476.60,263.62 L478.10,264.82 L479.60,266.03 L481.10,267.24 L482.60,268.46 L484.10,269.69 L485.60,270.92 L487.10,272.16 L488.60,273.40 L490.10,274.65 L491.60,275.90 L493.10,277.17 L494.60,278.44 L496.10,279.71 L497.60,280.99 L499.10,282.28 L500.60,283.58 L502.10,284.88 L503.60,286.19 L505.10,287.50 L506.60,288.83 L508.10,290.16 L509.60,291.49 L511.10,292.83 L512.60,294.18 L514.10,295.54 L515.60,296.90 L517.10,298.27 L518.60,299.65 L520.10,301.03 L521.60,302.42 L523.10,303.82 L524.60,305.22 L526.10,306.63 L527.60,308.04 L529.10,309.47 L530.60,310.89 L532.10,312.33 L533.60,313.77 L535.10,315.22 L536.60,316.67 L538.10,318.13 L539.60,319.60 L541.10,321.07 L542.60,322.55 L544.10,324.04 L545.60,325.53 L547.10,327.02 L548.60,328.52 L550.10,330.03 L551.60,331.54 L553.10,333.06 L554.60,334.58 L556.10,336.11 L557.60,337.64 L559.10,339.18 L560.60,340.72 L562.10,342.27 L563.60,343.82 L565.10,345.38 L566.60,346.94 L568.10,348.50 L569.60,350.07 L571.10,351.64 L572.60,353.22 L574.10,354.80 L575.60,356.38 L577.10,357.96 L578.60,359.55 L580.10,361.14 L581.60,362.74 L583.10,364.33 L584.60,365.93 L586.10,367.53 L587.60,369.13 L589.10,370.74 L590.60,372.34 L592.10,373.95 L593.60,375.56 L595.10,377.16 L596.60,378.77 L598.10,380.38 L599.60,381.99 L601.10,383.60 L602.60,385.21 L604.10,386.82 L605.60,388.43 L607.10,390.03 L608.60,391.64 L610.10,393.24 L611.60,394.84 L613.10,396.44 L614.60,398.04 L616.10,399.64 L617.60,401.23 L619.10,402.82 L620.60,404.40 L622.10,405.99 L623.60,407.56 L624.30,408.30 L624.99,409.02" stroke="#008000" stroke-dasharray="12 11.11" stroke-dashoffset="0.00"/>
<path d="M20.60,152.35 L22.10,152.39 L23.60,152.42 L25.10,152.46 L26.60,152.49 L28.10,152.51 L29.60,152.54 L31.10,152.56 L32.60,152.58 L34.10,152.60 L35.60,152.61 L37.10,152.63 L38.60,152.64 L40.10,152.65 L41.60,152.65 L43.10,152.66 L44.60,152.66 L46.10,152.67 L47.60,152.67 L49.10,152.66 L50.60,152.66 L52.10,152.66 L53.60,152.65 L55.10,152.65 L56.60,152.64 L58.10,152.63 L59.60,152.62 L61.10,152.61 L62.60,152.59 L64.10,152.58 L65.60,152.57 L67.10,152.55 L68.60,152.54 L70.10,152.52 L71.60,152.51 L73.10,152.49 L74.60,152.47 L76.10,152.46 L77.60,152.44 L79.10,152.42 L80.60,152.40 L82.10,152.38 L83.60,152.37 L85.10,152.35 L86.60,152.33 L88.10,152.31 L89.60,152.29 L91.10,152.28 L92.60,152.26 L94.10,152.24 L95.60,152.23 L97.10,152.21 L98.60,152.19 L100.10,152.18 L101.60,152.17 L103.10,152.15 L104.60,152.14 L106.10,152.13 L107.60,152.12 L109.10,152.10 L110.60,152.10 L112.10,152.09 L113.60,152.08 L115.10,152.07 L116.60,152.07 L118.10,152.06 L119.60,152.06 L121.10,152.06 L122.60,152.06 L124.10,152.06 L125.60,152.06 L127.10,152.07 L128.60,152.07 L130.10,152.08 L131.60,152.08 L133.10,152.09 L134.60,152.11 L136.10,152.12 L137.60,152.13 L139.10,152.15 L140.60,152.17 L142.10,152.19 L143.60,152.21 L145.10,152.23 L146.60,152.26 L148.10,152.29 L149.60,152.32 L151.10,152.35 L152.60,152.38 L154.10,152.42 L155.60,152.45 L157.10,152.49 L158.60,152.53 L160.10,152.58 L161.60,152.62 L163.10,152.67 L164.60,152.72 L166.10,152.78 L167.60,152.83 L169.10,152.89 L170.60,152.95 L172.10,153.01 L173.60,153.08 L175.10,153.14 L176.60,153.21 L178.10,153.28 L179.60,153.36 L181.10,153.44 L182.60,153.51 L184.10,153.60 L185.60,153.68 L187.10,153.77 L188.60,153.86 L190.10,153.95 L191.60,154.04 L193.10,154.14 L194.60,154.24 L196.10,154.35 L197.60,154.45 L199.10,154.56 L200.60,154.67 L202.10,154.78 L203.60,154.90 L205.10,155.02 L206.60,155.14 L208.10,155.26 L209.60,155.39 L211.10,155.52 L212.60,155.65 L214.10,155.79 L215.60,155.93 L217.10,156.07 L218.60,156.21 L220.10,156.36 L221.60,156.51 L223.10,156.66 L224.60,156.82 L226.10,156.97 L227.60,157.13 L229.10,157.30 L230.60,157.46 L232.10,157.63 L233.60,157.81 L235.10,157.98 L236.60,158.16 L238.10,158.34 L239.60,158.52 L241.10,158.71 L242.60,158.89 L244.10,159.09 L245.60,159.28 L247.10,159.48 L248.60,159.68 L250.10,159.88 L251.60,160.09 L253.10,160.30 L254.60,160.51 L256.10,160.73 L257.60,160.95 L259.10,161.17 L260.60,161.39 L262.10,161.62 L263.60,161.86 L265.10,162.09 L266.60,162.34 L268.10,162.58 L269.60,162.83 L271.10,163.08 L272.60,163.34 L274.10,163.60 L275.60,163.87 L277.10,164.14 L278.60,164.42 L280.10,164.70 L281.60,164.99 L283.10,165.28 L284.60,165.58 L286.10,165.88 L287.60,166.19 L289.10,166.51 L290.60,166.83 L292.10,167.16 L293.60,167.50 L295.10,167.84 L296.60,168.19 L298.10,168.55 L299.60,168.91 L301.10,169.28 L302.60,169.66 L304.10,170.05 L305.60,170.45 L307.10,170.86 L308.60,171.27 L310.10,171.70 L311.60,172.13 L313.10,172.57 L314.60,173.03 L316.10,173.49 L317.60,173.97 L319.10,174.45 L320.60,174.95 L322.10,175.46 L323.60,175.98 L325.10,176.52 L326.60,177.06 L328.10,177.62 L329.60,178.19 L331.10,178.78 L332.60,179.38 L334.10,179.99 L335.60,180.62 L337.10,181.26 L338.60,181.92 L340.10,182.60 L341.60,183.28 L343.10,183.99 L344.60,184.71 L346.10,185.45 L347.60,186.20 L349.10,186.97 L350.60,187.76 L352.10,188.56 L353.60,189.38 L354.90,190.11" stroke="#008000" stroke-dasharray="12 11.11" stroke-dashoffset="0.5"/>
<path d="M354.90,190.11 L355.10,190.22 L356.60,191.08 L358.10,191.96 L359.60,192.85 L361.10,193.76 L362.60,194.70 L364.10,195.65 L365.60,196.62 L367.10,197.61 L368.60,198.61 L370.10,199.64 L371.60,200.68 L373.10,201.74 L374.60,202.82 L376.10,203.92 L377.60,205.03 L379.10,206.15 L380.60,207.29 L382.10,208.44 L383.60,209.60 L385.10,210.78 L386.60,211.96 L388.10,213.16 L389.60,214.37 L391.10,215.58 L392.60,216.80 L394.10,218.03 L395.60,219.27 L397.10,220.51 L398.60,221.76 L400.10,223.01 L401.60,224.27 L403.10,225.54 L404.60,226.81 L406.10,228.08 L407.60,229.36 L409.10,230.64 L410.60,231.92 L412.10,233.21 L413.60,234.49 L415.10,235.79 L416.60,237.08 L418.10,238.38 L419.60,239.68 L421.10,240.98 L422.60,242.28 L424.10,243.59 L425.60,244.90 L427.10,246.21 L428.60,247.52 L430.10,248.83 L431.60,250.15 L433.10,251.46 L434.60,252.78 L436.10,254.10 L437.60,255.42 L439.10,256.74 L440.60,258.07 L442.10,259.39 L443.60,260.71 L445.10,262.04 L446.60,263.37 L448.10,264.69 L449.60,266.02 L451.10,267.35 L452.60,268.68 L454.10,270.01 L455.60,271.34 L457.10,272.68 L458.60,274.01 L460.10,275.34 L461.60,276.67 L463.10,278.01 L464.60,279.34 L466.10,280.68 L467.60,282.01 L469.10,283.35 L470.60,284.68 L472.10,286.02 L473.60,287.35 L475.10,288.69 L476.60,290.03 L478.10,291.36 L479.60,292.70 L481.10,294.04 L482.60,295.37 L484.10,296.71 L485.60,298.04 L487.10,299.38 L488.60,300.71 L490.10,302.04 L491.60,303.38 L493.10,304.71 L494.60,306.03 L496.10,307.36 L497.60,308.69 L499.10,310.01 L500.60,311.33 L502.10,312.65 L503.60,313.96 L505.10,315.28 L506.60,316.58 L508.10,317.89 L509.60,319.19 L511.10,320.49 L512.60,321.79 L514.10,323.08 L515.60,324.36 L517.10,325.65 L518.60,326.93 L520.10,328.20 L521.60,329.47 L523.10,330.74 L524.60,332.00 L526.10,333.26 L527.60,334.51 L529.10,335.76 L530.60,337.01 L532.10,338.25 L533.60,339.49 L535.10,340.72 L536.60,341.95 L538.10,343.18 L539.60,344.40 L541.10,345.61 L542.60,346.83 L544.10,348.03 L545.60,349.24 L547.10,350.44 L548.60,351.63 L550.10,352.83 L551.60,354.01 L553.10,355.20 L554.60,356.38 L556.10,357.55 L557.60,358.73 L559.10,359.90 L560.60,361.06 L562.10,362.22 L563.60,363.38 L565.10,364.53 L566.60,365.68 L568.10,366.83 L569.60,367.98 L571.10,369.12 L572.60,370.26 L574.10,371.39 L575.60,372.52 L577.10,373.65 L578.60,374.78 L580.10,375.90 L581.60,377.02 L583.10,378.14 L584.60,379.25 L586.10,380.37 L587.60,381.48 L589.10,382.59 L590.60,383.69 L592.10,384.80 L593.60,385.90 L595.10,387.00 L596.60,388.10 L598.10,389.20 L599.60,390.30 L601.10,391.39 L602.60,392.49 L604.10,393.58 L605.60,394.67 L607.10,395.77 L608.60,396.86 L610.10,397.95 L611.60,399.04 L613.10,400.13 L614.60,401.22 L616.10,402.32 L617.60,403.41 L619.10,404.50 L620.60,405.60 L622.10,406.69 L623.60,407.79 L624.30,408.30 L625.11,408.89" stroke="#008000" stroke-dasharray="12 11.11" stroke-dashoffset="1.20"/>
<path d="M20.60,152.35 L22.10,152.34 L23.60,152.33 L25.10,152.32 L26.60,152.32 L28.10,152.31 L29.60,152.31 L31.10,152.31 L32.60,152.31 L34.10,152.31 L35.60,152.31 L37.10,152.31 L38.60,152.32 L40.10,152.33 L41.60,152.33 L43.10,152.34 L44.60,152.35 L46.10,152.37 L47.60,152.38 L49.10,152.40 L50.60,152.42 L52.10,152.43 L53.60,152.46 L55.10,152.48 L56.60,152.50 L58.10,152.53 L59.60,152.56 L61.10,152.59 L62.60,152.62 L64.10,152.65 L65.60,152.68 L67.10,152.72 L68.60,152.76 L70.10,152.80 L71.60,152.84 L73.10,152.89 L74.60,152.93 L76.10,152.98 L77.60,153.03 L79.10,153.09 L80.60,153.14 L82.10,153.20 L83.60,153.26 L85.10,153.32 L86.60,153.38 L88.10,153.45 L89.60,153.51 L91.10,153.58 L92.60,153.66 L94.10,153.73 L95.60,153.81 L97.10,153.88 L98.60,153.97 L100.10,154.05 L101.60,154.13 L103.10,154.22 L104.60,154.31 L106.10,154.41 L107.60,154.50 L109.10,154.60 L110.60,154.70 L112.10,154.80 L113.60,154.91 L115.10,155.01 L116.60,155.12 L118.10,155.24 L119.60,155.35 L121.10,155.47 L122.60,155.59 L124.10,155.71 L125.60,155.84 L127.10,155.97 L128.60,156.10 L130.10,156.23 L131.60,156.37 L133.10,156.51 L134.60,156.65 L136.10,156.79 L137.60,156.94 L139.10,157.09 L140.60,157.24 L142.10,157.40 L143.60,157.56 L145.10,157.72 L146.60,157.88 L148.10,158.05 L149.60,158.22 L151.10,158.39 L152.60,158.57 L154.10,158.75 L155.60,158.93 L157.10,159.11 L158.60,159.30 L160.10,159.49 L161.60,159.69 L163.10,159.88 L164.60,160.08 L166.10,160.29 L167.60,160.49 L169.10,160.70 L170.60,160.92 L172.10,161.13 L173.60,161.35 L175.10,161.57 L176.60,161.80 L178.10,162.03 L179.60,162.26 L181.10,162.49 L182.60,162.73 L184.10,162.97 L185.60,163.22 L187.10,163.47 L188.60,163.72 L190.10,163.97 L191.60,164.23 L193.10,164.49 L194.60,164.76 L196.10,165.03 L197.60,165.30 L199.10,165.57 L200.60,165.85 L202.10,166.13 L203.60,166.42 L205.10,166.71 L206.60,167.00 L208.10,167.30 L209.60,167.60 L211.10,167.90 L212.60,168.21 L214.10,168.52 L215.60,168.83 L217.10,169.15 L218.60,169.47 L220.10,169.79 L221.60,170.12 L223.10,170.45 L224.60,170.79 L226.10,171.13 L227.60,171.47 L229.10,171.82 L230.60,172.17 L232.10,172.52 L233.60,172.88 L235.10,173.24 L236.60,173.61 L238.10,173.98 L239.60,174.35 L241.10,174.72 L242.60,175.11 L244.10,175.49 L245.60,175.88 L247.10,176.27 L248.60,176.66 L250.10,177.06 L251.60,177.47 L253.10,177.88 L254.60,178.29 L256.10,178.70 L257.60,179.12 L259.10,179.54 L260.60,179.97 L262.10,180.40 L263.60,180.84 L265.10,181.27 L266.60,181.72 L268.10,182.16 L269.60,182.61 L271.10,183.07 L272.60,183.53 L274.10,183.99 L275.60,184.46 L277.10,184.93 L278.60,185.40 L280.10,185.88 L281.60,186.37 L283.10,186.85 L284.60,187.34 L286.10,187.84 L287.60,188.34 L289.10,188.84 L290.60,189.35 L292.10,189.86 L293.60,190.38 L295.10,190.90 L296.60,191.42 L298.10,191.95 L299.60,192.49 L301.10,193.02 L302.60,193.56 L304.10,194.11 L305.60,194.66 L307.10,195.21 L308.60,195.77 L310.10,196.33 L311.60,196.90 L313.10,197.47 L314.60,198.05 L316.10,198.63 L317.60,199.21 L319.10,199.80 L320.60,200.39 L322.10,200.99 L323.60,201.59 L325.10,202.20 L326.60,202.81 L328.10,203.42 L329.60,204.04 L331.10,204.66 L332.60,205.29 L334.10,205.92 L335.60,206.56 L337.10,207.20 L338.60,207.84 L340.10,208.49 L341.60,209.14 L343.10,209.80 L344.60,210.47 L346.10,211.13 L347.60,211.80 L349.10,212.48 L350.60,213.16 L352.10,213.84 L353.60,214.53 L355.10,215.23 L356.60,215.93 L358.10,216.63 L359.60,217.34 L361.10,218.05 L362.60,218.76 L364.10,219.48 L365.60,220.21 L367.10,220.94 L368.60,221.67 L370.10,222.41 L371.60,223.16 L373.10,223.90 L374.60,224.65 L376.10,225.41 L377.60,226.17 L379.10,226.94 L380.60,227.71 L382.10,228.48 L383.60,229.26 L385.10,230.04 L386.60,230.83 L388.10,231.62 L389.60,232.41 L391.10,233.21 L392.60,234.01 L394.10,234.82 L395.60,235.63 L397.10,236.44 L398.60,237.26 L400.10,238.08 L401.60,238.90 L403.10,239.73 L404.60,240.56 L406.10,241.39 L407.60,242.23 L409.10,243.07 L410.60,243.91 L412.10,244.75 L413.60,245.60 L415.10,246.45 L416.60,247.30 L418.10,248.16 L419.60,249.01 L421.10,249.88 L422.60,250.74 L424.10,251.61 L425.60,252.48 L427.10,253.36 L428.60,254.24 L430.10,255.12 L431.60,256.01 L433.10,256.90 L434.60,257.80 L436.10,258.71 L437.60,259.62 L439.10,260.53 L440.60,261.46 L442.10,262.39 L443.60,263.33 L445.10,264.27 L446.60,265.23 L448.10,266.19 L449.60,267.16 L451.10,268.15 L452.60,269.14 L454.10,270.15 L455.60,271.16 L457.10,272.19 L458.60,273.22 L460.10,274.27 L461.60,275.32 L463.10,276.38 L464.60,277.45 L466.10,278.53 L467.60,279.61 L469.10,280.69 L470.60,281.77 L472.10,282.86 L473.60,283.95 L475.10,285.04 L476.60,286.13 L478.10,287.22 L479.60,288.31 L481.10,289.40 L482.60,290.49 L484.10,291.58 L485.60,292.67 L487.10,293.76 L488.60,294.86 L490.10,295.96 L491.60,297.06 L493.10,298.16 L494.60,299.26 L496.10,300.37 L497.60,301.49 L499.10,302.60 L500.60,303.72 L502.10,304.84 L503.60,305.97 L505.10,307.10 L506.60,308.23 L508.10,309.37 L509.60,310.51 L511.10,311.65 L512.60,312.80 L514.10,313.95 L515.60,315.10 L517.10,316.26 L518.60,317.42 L520.10,318.58 L521.60,319.75 L523.10,320.92 L524.60,322.09 L526.10,323.27 L527.60,324.45 L529.10,325.64 L530.60,326.83 L532.10,328.02 L533.60,329.21 L535.10,330.41 L536.60,331.62 L538.10,332.82 L539.60,334.03 L541.10,335.24 L542.60,336.46 L544.10,337.68 L545.60,338.90 L547.10,340.13 L548.60,341.36 L550.10,342.59 L551.60,343.83 L553.10,345.07 L554.60,346.32 L556.10,347.57 L557.60,348.82 L559.10,350.07 L560.60,351.33 L562.10,352.60 L563.60,353.86 L565.10,355.13 L566.60,356.41 L568.10,357.68 L569.60,358.96 L571.10,360.25 L572.60,361.54 L574.10,362.83 L575.60,364.13 L577.10,365.42 L578.60,366.73 L580.10,368.04 L581.60,369.35 L583.10,370.66 L584.60,371.98 L586.10,373.30 L587.60,374.63 L589.10,375.96 L590.60,377.29 L592.10,378.63 L593.60,379.97 L595.10,381.32 L596.60,382.66 L598.10,384.02 L599.60,385.37 L601.10,386.74 L602.60,388.10 L604.10,389.47 L605.60,390.84 L607.10,392.22 L608.60,393.60 L610.10,394.99 L611.60,396.37 L613.10,397.77 L614.60,399.16 L616.10,400.57 L617.60,401.97 L619.10,403.38 L620.60,404.79 L622.10,406.21 L623.60,407.63 L624.30,408.30 L625.03,408.99" stroke="#008000" stroke-dasharray="12 11.11" stroke-dashoffset="0.5"/>
<path d="M20.60,152.35 L22.10,152.36 L23.60,152.37 L25.10,152.38 L26.60,152.39 L28.10,152.40 L29.60,152.40 L31.10,152.41 L32.60,152.42 L34.10,152.43 L35.60,152.44 L37.10,152.45 L38.60,152.45 L40.10,152.46 L41.60,152.47 L43.10,152.47 L44.60,152.48 L46.10,152.48 L47.60,152.48 L49.10,152.49 L50.60,152.49 L52.10,152.49 L53.60,152.49 L55.10,152.49 L56.60,152.49 L58.10,152.49 L59.60,152.48 L61.10,152.48 L62.60,152.48 L64.10,152.47 L65.60,152.46 L67.10,152.46 L68.60,152.45 L70.10,152.44 L71.60,152.43 L73.10,152.41 L74.60,152.40 L76.10,152.39 L77.60,152.37 L79.10,152.36 L80.60,152.34 L82.10,152.32 L83.60,152.30 L85.10,152.28 L86.60,152.26 L88.10,152.24 L89.60,152.21 L91.10,152.19 L92.60,152.16 L94.10,152.14 L95.60,152.11 L97.10,152.08 L98.60,152.05 L100.10,152.02 L101.60,151.99 L103.10,151.96 L104.60,151.92 L106.10,151.89 L107.60,151.86 L109.10,151.82 L110.60,151.79 L112.10,151.75 L113.60,151.71 L115.10,151.67 L116.60,151.63 L118.10,151.59 L119.60,151.55 L121.10,151.51 L122.60,151.47 L124.10,151.43 L125.60,151.39 L127.10,151.35 L128.60,151.31 L130.10,151.27 L131.60,151.22 L133.10,151.18 L134.60,151.14 L136.10,151.10 L137.60,151.06 L139.10,151.01 L140.60,150.97 L142.10,150.93 L143.60,150.89 L145.10,150.85 L146.60,150.81 L148.10,150.77 L149.60,150.73 L151.10,150.69 L152.60,150.66 L154.10,150.62 L155.60,150.58 L157.10,150.55 L158.60,150.52 L160.10,150.49 L161.60,150.45 L163.10,150.43 L164.60,150.40 L166.10,150.37 L167.60,150.35 L169.10,150.33 L170.60,150.30 L172.10,150.29 L173.60,150.27 L175.10,150.25 L176.60,150.24 L178.10,150.23 L179.60,150.23 L181.10,150.22 L182.60,150.22 L184.10,150.22 L185.60,150.22 L187.10,150.23 L188.60,150.24 L190.10,150.25 L191.60,150.27 L193.10,150.29 L194.60,150.31 L196.10,150.34 L197.60,150.37 L199.10,150.41 L200.60,150.45 L202.10,150.49 L203.60,150.54 L205.10,150.59 L206.60,150.65 L208.10,150.71 L209.60,150.78 L211.10,150.85 L212.60,150.93 L214.10,151.01 L215.60,151.10 L217.10,151.19 L218.60,151.29 L220.10,151.40 L221.60,151.51 L223.10,151.63 L224.60,151.75 L226.10,151.89 L227.60,152.02 L229.10,152.17 L230.60,152.32 L232.10,152.48 L233.60,152.65 L235.10,152.82 L236.60,153.00 L238.10,153.19 L239.60,153.39 L241.10,153.60 L242.60,153.81 L244.10,154.04 L245.60,154.27 L247.10,154.51 L248.60,154.76 L250.10,155.02 L251.60,155.29 L253.10,155.56 L254.60,155.85 L256.10,156.15 L257.60,156.45 L259.10,156.77 L260.60,157.09 L262.10,157.42 L263.60,157.77 L265.10,158.12 L266.60,158.48 L268.10,158.85 L269.60,159.23 L271.10,159.62 L272.60,160.02 L274.10,160.43 L275.60,160.84 L277.10,161.27 L278.60,161.70 L280.10,162.14 L281.60,162.59 L283.10,163.05 L284.60,163.51 L286.10,163.99 L287.60,164.47 L289.10,164.95 L290.60,165.45 L292.10,165.95 L293.60,166.45 L295.10,166.96 L296.60,167.48 L298.10,168.01 L299.60,168.53 L301.10,169.07 L302.60,169.60 L304.10,170.14 L305.60,170.69 L307.10,171.23 L308.60,171.78 L310.10,172.33 L311.60,172.89 L313.10,173.44 L314.60,174.00 L316.10,174.55 L317.60,175.11 L319.10,175.66 L320.60,176.22 L322.10,176.78 L323.60,177.33 L325.10,177.89 L326.60,178.44 L328.10,178.99 L329.60,179.55 L331.10,180.10 L332.60,180.65 L334.10,181.20 L335.60,181.75 L337.10,182.30 L338.60,182.85 L340.10,183.40 L341.60,183.95 L343.10,184.50 L344.60,185.06 L346.10,185.61 L347.60,186.16 L349.10,186.72 L350.60,187.28 L352.10,187.84 L353.60,188.41 L355.10,188.98 L356.60,189.55 L358.10,190.12 L359.60,190.70 L361.10,191.29 L362.60,191.88 L364.10,192.48 L365.60,193.08 L367.10,193.69 L368.60,194.30 L370.10,194.92 L371.60,195.55 L373.10,196.19 L374.60,196.83 L376.10,197.48 L377.60,198.15 L379.10,198.81 L380.60,199.49 L382.10,200.18 L383.60,200.88 L385.10,201.58 L386.60,202.30 L388.10,203.02 L389.60,203.76 L391.10,204.50 L392.60,205.26 L394.10,206.02 L395.60,206.79 L397.10,207.58 L398.60,208.37 L400.10,209.17 L401.60,209.99 L403.10,210.81 L404.60,211.64 L406.10,212.48 L407.60,213.34 L409.10,214.20 L410.60,215.07 L412.10,215.95 L413.60,216.84 L415.10,217.74 L416.60,218.65 L418.10,219.56 L419.60,220.49 L421.10,221.43 L422.60,222.37 L424.10,223.32 L425.60,224.29 L427.10,225.26 L428.60,226.24 L430.10,227.23 L431.60,228.22 L433.10,229.23 L434.60,230.24 L436.10,231.26 L437.60,232.29 L439.10,233.33 L440.60,234.38 L442.10,235.43 L443.60,236.49 L445.10,237.56 L446.60,238.64 L448.10,239.73 L449.60,240.82 L451.10,241.92 L452.60,243.03 L454.10,244.14 L455.60,245.26 L457.10,246.39 L458.60,247.53 L460.10,248.67 L461.60,249.82 L463.10,250.98 L464.60,252.15 L466.10,253.32 L467.60,254.49 L469.10,255.68 L470.60,256.87 L472.10,258.07 L473.60,259.27 L475.10,260.48 L476.60,261.70 L478.10,262.92 L479.60,264.15 L481.10,265.39 L482.60,266.63 L484.10,267.88 L485.60,269.13 L487.10,270.39 L488.60,271.66 L490.10,272.93 L491.60,274.21 L493.10,275.49 L494.60,276.78 L496.10,278.07 L497.60,279.37 L499.10,280.68 L500.60,281.99 L502.10,283.30 L503.60,284.62 L505.10,285.95 L506.60,287.28 L508.10,288.62 L509.60,289.96 L511.10,291.31 L512.60,292.66 L514.10,294.02 L515.60,295.38 L517.10,296.75 L518.60,298.12 L520.10,299.50 L521.60,300.89 L523.10,302.27 L524.60,303.67 L526.10,305.06 L527.60,306.47 L529.10,307.87 L530.60,309.29 L532.10,310.70 L533.60,312.13 L535.10,313.55 L536.60,314.99 L538.10,316.42 L539.60,317.87 L541.10,319.31 L542.60,320.76 L544.10,322.22 L545.60,323.68 L547.10,325.15 L548.60,326.62 L550.10,328.10 L551.60,329.58 L553.10,331.07 L554.60,332.56 L556.10,334.05 L557.60,335.56 L559.10,337.06 L560.60,338.57 L562.10,340.09 L563.60,341.61 L565.10,343.14 L566.60,344.68 L568.10,346.21 L569.60,347.76 L571.10,349.31 L572.60,350.86 L574.10,352.42 L575.60,353.99 L577.10,355.56 L578.60,357.14 L580.10,358.72 L581.60,360.31 L583.10,361.91 L584.60,363.51 L586.10,365.11 L587.60,366.73 L589.10,368.34 L590.60,369.97 L592.10,371.60 L593.60,373.24 L595.10,374.88 L596.60,376.53 L598.10,378.19 L599.60,379.86 L601.10,381.53 L602.60,383.20 L604.10,384.89 L605.60,386.58 L607.10,388.28 L608.60,389.99 L610.10,391.70 L611.60,393.42 L613.10,395.15 L614.60,396.88 L616.10,398.63 L617.60,400.38 L619.10,402.14 L620.60,403.91 L622.10,405.68 L623.60,407.46 L624.30,408.30 L624.94,409.07" stroke="#ff0000" stroke-width="2.2" stroke-dasharray="5.95 2.12"/>
<path d="M20.60,152.35 L22.10,152.30 L23.60,152.25 L25.10,152.20 L26.60,152.16 L28.10,152.12 L29.60,152.08 L31.10,152.05 L32.60,152.02 L34.10,151.99 L35.60,151.97 L37.10,151.95 L38.60,151.93 L40.10,151.91 L41.60,151.90 L43.10,151.89 L44.60,151.88 L46.10,151.87 L47.60,151.87 L49.10,151.86 L50.60,151.86 L52.10,151.87 L53.60,151.87 L55.10,151.88 L56.60,151.88 L58.10,151.89 L59.60,151.90 L61.10,151.92 L62.60,151.93 L64.10,151.95 L65.60,151.96 L67.10,151.98 L68.60,152.00 L70.10,152.03 L71.60,152.05 L73.10,152.07 L74.60,152.10 L76.10,152.12 L77.60,152.15 L79.10,152.18 L80.60,152.21 L82.10,152.24 L83.60,152.27 L85.10,152.31 L86.60,152.34 L88.10,152.37 L89.60,152.41 L91.10,152.44 L92.60,152.48 L94.10,152.52 L95.60,152.56 L97.10,152.60 L98.60,152.63 L100.10,152.67 L101.60,152.71 L103.10,152.76 L104.60,152.80 L106.10,152.84 L107.60,152.88 L109.10,152.92 L110.60,152.97 L112.10,153.01 L113.60,153.06 L115.10,153.10 L116.60,153.15 L118.10,153.19 L119.60,153.24 L121.10,153.28 L122.60,153.33 L124.10,153.38 L125.60,153.42 L127.10,153.47 L128.60,153.52 L130.10,153.57 L131.60,153.62 L133.10,153.67 L134.60,153.72 L136.10,153.77 L137.60,153.82 L139.10,153.87 L140.60,153.92 L142.10,153.97 L143.60,154.02 L145.10,154.07 L146.60,154.13 L148.10,154.18 L149.60,154.23 L151.10,154.29 L152.60,154.34 L154.10,154.40 L155.60,154.46 L157.10,154.51 L158.60,154.57 L160.10,154.63 L161.60,154.69 L163.10,154.75 L164.60,154.81 L166.10,154.87 L167.60,154.93 L169.10,154.99 L170.60,155.06 L172.10,155.12 L173.60,155.19 L175.10,155.25 L176.60,155.32 L178.10,155.39 L179.60,155.46 L181.10,155.53 L182.60,155.60 L184.10,155.68 L185.60,155.75 L187.10,155.83 L188.60,155.91 L190.10,155.98 L191.60,156.07 L193.10,156.15 L194.60,156.23 L196.10,156.32 L197.60,156.40 L199.10,156.49 L200.60,156.59 L202.10,156.68 L203.60,156.77 L205.10,156.87 L206.60,156.97 L208.10,157.07 L209.60,157.18 L211.10,157.28 L212.60,157.39 L214.10,157.50 L215.60,157.62 L217.10,157.73 L218.60,157.85 L220.10,157.98 L221.60,158.10 L223.10,158.23 L224.60,158.36 L226.10,158.50 L227.60,158.63 L229.10,158.78 L230.60,158.92 L232.10,159.07 L233.60,159.22 L235.10,159.37 L236.60,159.53 L238.10,159.70 L239.60,159.86 L241.10,160.04 L242.60,160.21 L244.10,160.39 L245.60,160.57 L247.10,160.76 L248.60,160.96 L250.10,161.15 L251.60,161.36 L253.10,161.57 L254.60,161.78 L256.10,162.00 L257.60,162.22 L259.10,162.45 L260.60,162.68 L262.10,162.92 L263.60,163.17 L265.10,163.42 L266.60,163.68 L268.10,163.94 L269.60,164.21 L271.10,164.49 L272.60,164.78 L274.10,165.07 L275.60,165.37 L277.10,165.67 L278.60,165.98 L280.10,166.30 L281.60,166.63 L283.10,166.97 L284.60,167.31 L286.10,167.66 L287.60,168.02 L289.10,168.39 L290.60,168.77 L292.10,169.16 L293.60,169.55 L295.10,169.96 L296.60,170.37 L298.10,170.79 L299.60,171.23 L301.10,171.67 L302.60,172.13 L304.10,172.59 L305.60,173.06 L307.10,173.55 L308.60,174.05 L310.10,174.56 L311.60,175.08 L313.10,175.61 L314.60,176.15 L316.10,176.71 L317.60,177.28 L319.10,177.86 L320.60,178.45 L322.10,179.06 L323.60,179.68 L325.10,180.31 L326.60,180.96 L328.10,181.62 L329.60,182.30 L331.10,182.99 L332.60,183.69 L334.10,184.41 L335.60,185.14 L337.10,185.89 L338.60,186.65 L340.10,187.43 L341.60,188.22 L343.10,189.02 L344.60,189.84 L346.10,190.67 L347.60,191.52 L349.10,192.39 L350.60,193.26 L352.10,194.15 L353.60,195.06 L355.10,195.97 L356.60,196.90 L358.10,197.85 L359.60,198.81 L361.10,199.78 L362.60,200.76 L364.10,201.75 L365.60,202.76 L367.10,203.78 L368.60,204.80 L370.10,205.84 L371.60,206.89 L373.10,207.95 L374.60,209.02 L376.10,210.10 L377.60,211.19 L379.10,212.28 L380.60,213.39 L382.10,214.50 L383.60,215.62 L385.10,216.74 L386.60,217.88 L388.10,219.02 L389.60,220.17 L391.10,221.32 L392.60,222.48 L394.10,223.65 L395.60,224.82 L397.10,226.00 L398.60,227.18 L400.10,228.37 L401.60,229.57 L403.10,230.76 L404.60,231.97 L406.10,233.18 L407.60,234.39 L409.10,235.61 L410.60,236.83 L412.10,238.05 L413.60,239.28 L415.10,240.51 L416.60,241.75 L418.10,242.99 L419.60,244.24 L421.10,245.49 L422.60,246.74 L424.10,247.99 L425.60,249.25 L427.10,250.51 L428.60,251.78 L430.10,253.04 L431.60,254.31 L433.10,255.59 L434.60,256.86 L436.10,258.14 L437.60,259.42 L439.10,260.70 L440.60,261.99 L442.10,263.27 L443.60,264.56 L445.10,265.85 L446.60,267.15 L448.10,268.44 L449.60,269.74 L451.10,271.03 L452.60,272.33 L454.10,273.63 L455.60,274.93 L457.10,276.23 L458.60,277.54 L460.10,278.84 L461.60,280.15 L463.10,281.45 L464.60,282.76 L466.10,284.06 L467.60,285.37 L469.10,286.68 L470.60,287.99 L472.10,289.29 L473.60,290.60 L475.10,291.91 L476.60,293.22 L478.10,294.53 L479.60,295.83 L481.10,297.14 L482.60,298.45 L484.10,299.75 L485.60,301.06 L487.10,302.36 L488.60,303.66 L490.10,304.97 L491.60,306.27 L493.10,307.57 L494.60,308.87 L496.10,310.17 L497.60,311.46 L499.10,312.76 L500.60,314.05 L502.10,315.34 L503.60,316.63 L505.10,317.92 L506.60,319.21 L508.10,320.49 L509.60,321.78 L511.10,323.06 L512.60,324.33 L514.10,325.61 L515.60,326.88 L517.10,328.16 L518.60,329.42 L520.10,330.69 L521.60,331.95 L523.10,333.22 L524.60,334.47 L526.10,335.73 L527.60,336.98 L529.10,338.23 L530.60,339.48 L532.10,340.72 L533.60,341.96 L535.10,343.20 L536.60,344.43 L538.10,345.66 L539.60,346.89 L541.10,348.11 L542.60,349.33 L544.10,350.54 L545.60,351.75 L547.10,352.96 L548.60,354.16 L550.10,355.36 L551.60,356.56 L553.10,357.75 L554.60,358.94 L556.10,360.12 L557.60,361.30 L559.10,362.47 L560.60,363.64 L562.10,364.80 L563.60,365.96 L565.10,367.12 L566.60,368.27 L568.10,369.41 L569.60,370.56 L571.10,371.69 L572.60,372.82 L574.10,373.95 L575.60,375.07 L577.10,376.18 L578.60,377.29 L580.10,378.40 L581.60,379.50 L583.10,380.59 L584.60,381.68 L586.10,382.76 L587.60,383.84 L589.10,384.91 L590.60,385.98 L592.10,387.04 L593.60,388.09 L595.10,389.14 L596.60,390.18 L598.10,391.22 L599.60,392.25 L601.10,393.27 L602.60,394.29 L604.10,395.30 L605.60,396.31 L607.10,397.31 L608.60,398.30 L610.10,399.29 L611.60,400.27 L613.10,401.24 L614.60,402.21 L616.10,403.17 L617.60,404.12 L619.10,405.07 L620.60,406.01 L622.10,406.94 L623.60,407.87 L624.30,408.30 L625.15,408.82" stroke="#ff0000" stroke-width="2.2" stroke-dasharray="5.95 2.12"/>
<path d="M20.60,152.35 L22.10,152.37 L23.60,152.40 L25.10,152.42 L26.60,152.44 L28.10,152.46 L29.60,152.48 L31.10,152.49 L32.60,152.51 L34.10,152.53 L35.60,152.54 L37.10,152.56 L38.60,152.57 L40.10,152.58 L41.60,152.60 L43.10,152.61 L44.60,152.62 L46.10,152.63 L47.60,152.65 L49.10,152.66 L50.60,152.67 L52.10,152.68 L53.60,152.69 L55.10,152.70 L56.60,152.71 L58.10,152.72 L59.60,152.73 L61.10,152.74 L62.60,152.75 L64.10,152.76 L65.60,152.77 L67.10,152.78 L68.60,152.79 L70.10,152.80 L71.60,152.81 L73.10,152.83 L74.60,152.84 L76.10,152.85 L77.60,152.86 L79.10,152.88 L80.60,152.89 L82.10,152.91 L83.60,152.92 L85.10,152.94 L86.60,152.96 L88.10,152.97 L89.60,152.99 L91.10,153.01 L92.60,153.03 L94.10,153.05 L95.60,153.08 L97.10,153.10 L98.60,153.12 L100.10,153.15 L101.60,153.18 L103.10,153.20 L104.60,153.23 L106.10,153.26 L107.60,153.29 L109.10,153.33 L110.60,153.36 L112.10,153.39 L113.60,153.43 L115.10,153.47 L116.60,153.51 L118.10,153.55 L119.60,153.59 L121.10,153.64 L122.60,153.68 L124.10,153.73 L125.60,153.78 L127.10,153.83 L128.60,153.88 L130.10,153.94 L131.60,153.99 L133.10,154.05 L134.60,154.11 L136.10,154.17 L137.60,154.24 L139.10,154.30 L140.60,154.37 L142.10,154.44 L143.60,154.51 L145.10,154.59 L146.60,154.66 L148.10,154.74 L149.60,154.82 L151.10,154.91 L152.60,154.99 L154.10,155.08 L155.60,155.17 L157.10,155.26 L158.60,155.36 L160.10,155.45 L161.60,155.55 L163.10,155.65 L164.60,155.76 L166.10,155.87 L167.60,155.98 L169.10,156.09 L170.60,156.20 L172.10,156.32 L173.60,156.44 L175.10,156.56 L176.60,156.69 L178.10,156.82 L179.60,156.95 L181.10,157.08 L182.60,157.22 L184.10,157.36 L185.60,157.50 L187.10,157.65 L188.60,157.80 L190.10,157.95 L191.60,158.10 L193.10,158.26 L194.60,158.42 L196.10,158.59 L197.60,158.75 L199.10,158.92 L200.60,159.10 L202.10,159.27 L203.60,159.45 L205.10,159.64 L206.60,159.82 L208.10,160.01 L209.60,160.20 L211.10,160.40 L212.60,160.60 L214.10,160.80 L215.60,161.01 L217.10,161.22 L218.60,161.43 L220.10,161.65 L221.60,161.87 L223.10,162.09 L224.60,162.32 L226.10,162.55 L227.60,162.79 L229.10,163.02 L230.60,163.27 L232.10,163.51 L233.60,163.76 L235.10,164.01 L236.60,164.27 L238.10,164.53 L239.60,164.80 L241.10,165.06 L242.60,165.33 L244.10,165.61 L245.60,165.89 L247.10,166.17 L248.60,166.46 L250.10,166.75 L251.60,167.05 L253.10,167.34 L254.60,167.65 L256.10,167.95 L257.60,168.27 L259.10,168.58 L260.60,168.90 L262.10,169.22 L263.60,169.55 L265.10,169.88 L266.60,170.21 L268.10,170.55 L269.60,170.90 L271.10,171.24 L272.60,171.60 L274.10,171.95 L275.60,172.31 L277.10,172.68 L278.60,173.04 L280.10,173.42 L281.60,173.79 L283.10,174.18 L284.60,174.56 L286.10,174.95 L287.60,175.35 L289.10,175.74 L290.60,176.15 L292.10,176.55 L293.60,176.97 L295.10,177.38 L296.60,177.80 L298.10,178.23 L299.60,178.66 L301.10,179.09 L302.60,179.53 L304.10,179.97 L305.60,180.42 L307.10,180.87 L308.60,181.32 L310.10,181.78 L311.60,182.25 L313.10,182.72 L314.60,183.19 L316.10,183.67 L317.60,184.15 L319.10,184.64 L320.60,185.13 L322.10,185.63 L323.60,186.13 L325.10,186.64 L326.60,187.15 L328.10,187.67 L329.60,188.19 L331.10,188.71 L332.60,189.24 L334.10,189.78 L335.60,190.31 L337.10,190.86 L338.60,191.41 L340.10,191.96 L341.60,192.52 L343.10,193.08 L344.60,193.65 L346.10,194.22 L347.60,194.80 L349.10,195.39 L350.60,195.97 L352.10,196.57 L353.60,197.16 L355.10,197.77 L356.60,198.37 L358.10,198.99 L359.60,199.61 L361.10,200.23 L362.60,200.86 L364.10,201.49 L365.60,202.13 L367.10,202.77 L368.60,203.42 L370.10,204.08 L371.60,204.74 L373.10,205.40 L374.60,206.07 L376.10,206.75 L377.60,207.43 L379.10,208.12 L380.60,208.81 L382.10,209.51 L383.60,210.21 L385.10,210.92 L386.60,211.63 L388.10,212.35 L389.60,213.08 L391.10,213.81 L392.60,214.55 L394.10,215.29 L395.60,216.04 L397.10,216.80 L398.60,217.56 L400.10,218.32 L401.60,219.09 L403.10,219.87 L404.60,220.66 L406.10,221.45 L407.60,222.24 L409.10,223.05 L410.60,223.85 L412.10,224.67 L413.60,225.49 L415.10,226.32 L416.60,227.15 L418.10,227.99 L419.60,228.84 L421.10,229.69 L422.60,230.55 L424.10,231.41 L425.60,232.29 L427.10,233.17 L428.60,234.05 L430.10,234.94 L431.60,235.84 L433.10,236.75 L434.60,237.66 L436.10,238.57 L437.60,239.50 L439.10,240.43 L440.60,241.37 L442.10,242.31 L443.60,243.26 L445.10,244.22 L446.60,245.18 L448.10,246.15 L449.60,247.13 L451.10,248.11 L452.60,249.10 L454.10,250.10 L455.60,251.10 L457.10,252.11 L458.60,253.12 L460.10,254.14 L461.60,255.17 L463.10,256.20 L464.60,257.23 L466.10,258.28 L467.60,259.32 L469.10,260.38 L470.60,261.44 L472.10,262.50 L473.60,263.58 L475.10,264.65 L476.60,265.74 L478.10,266.83 L479.60,267.92 L481.10,269.03 L482.60,270.13 L484.10,271.25 L485.60,272.37 L487.10,273.50 L488.60,274.64 L490.10,275.79 L491.60,276.94 L493.10,278.11 L494.60,279.28 L496.10,280.46 L497.60,281.65 L499.10,282.84 L500.60,284.05 L502.10,285.27 L503.60,286.50 L505.10,287.74 L506.60,288.98 L508.10,290.24 L509.60,291.51 L511.10,292.79 L512.60,294.07 L514.10,295.37 L515.60,296.68 L517.10,298.00 L518.60,299.32 L520.10,300.66 L521.60,302.01 L523.10,303.37 L524.60,304.73 L526.10,306.11 L527.60,307.49 L529.10,308.89 L530.60,310.29 L532.10,311.70 L533.60,313.12 L535.10,314.55 L536.60,315.99 L538.10,317.43 L539.60,318.88 L541.10,320.34 L542.60,321.81 L544.10,323.28 L545.60,324.76 L547.10,326.25 L548.60,327.74 L550.10,329.24 L551.60,330.74 L553.10,332.24 L554.60,333.75 L556.10,335.27 L557.60,336.79 L559.10,338.31 L560.60,339.84 L562.10,341.36 L563.60,342.90 L565.10,344.43 L566.60,345.97 L568.10,347.51 L569.60,349.05 L571.10,350.59 L572.60,352.14 L574.10,353.68 L575.60,355.24 L577.10,356.79 L578.60,358.34 L580.10,359.90 L581.60,361.46 L583.10,363.02 L584.60,364.59 L586.10,366.16 L587.60,367.73 L589.10,369.31 L590.60,370.89 L592.10,372.47 L593.60,374.06 L595.10,375.65 L596.60,377.25 L598.10,378.85 L599.60,380.46 L601.10,382.08 L602.60,383.70 L604.10,385.33 L605.60,386.97 L607.10,388.61 L608.60,390.27 L610.10,391.94 L611.60,393.61 L613.10,395.30 L614.60,396.99 L616.10,398.70 L617.60,400.43 L619.10,402.16 L620.60,403.91 L622.10,405.68 L623.60,407.46 L624.30,408.30 L624.94,409.07" stroke="#ff0000" stroke-width="2.2" stroke-dasharray="5.95 2.12"/>
</g>
<line x1="20.6" y1="152.40" x2="624.90" y2="152.40" stroke="#000" stroke-width="0.62"/>
</svg></body></html>
